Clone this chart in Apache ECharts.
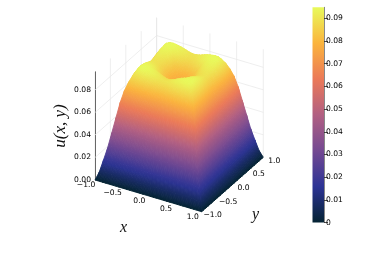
<!DOCTYPE html>
<html><head><meta charset="utf-8">
<style>html,body{margin:0;padding:0;background:#fff}#c{width:381px;height:254px;filter:blur(.3px)}</style>
<script src="https://cdn.jsdelivr.net/npm/echarts@6/dist/echarts.min.js"></script></head>
<body><div id="c"></div>
<script>
const xTicks=[-1,-0.5,0,0.5,1];
const yTicks=[-1,-0.5,0,0.5,1];
const zTicks=[0,0.02,0.04,0.06,0.08];
const colorTicks=[0,0.01,0.02,0.03,0.04,0.05,0.06,0.07,0.08,0.09];
const palette=['#042333','#2c3395','#744992','#b15f82','#eb7958','#fbb43d','#e8fa5b'];
const zMax=0.0948, zWall=0.096;
// surface heights; the surface is mirror symmetric, so
// heights[b][a] is the height where the larger of |x|,|y| is b*0.05 and the smaller is a*0.05
const heights=[
[.0755],
[.0757,.0761],
[.0765,.0768,.0775],
[.0780,.0784,.0792,.0803],
[.0802,.0806,.0815,.0826,.0838],
[.0830,.0834,.0844,.0855,.0868,.0880],
[.0858,.0862,.0871,.0882,.0895,.0908,.0918],
[.0878,.0882,.0890,.0900,.0912,.0923,.0932,.0938],
[.0889,.0892,.0899,.0909,.0919,.0929,.0937,.0943,.0947],
[.0895,.0899,.0906,.0915,.0925,.0933,.0940,.0944,.0946,.0945],
[.0895,.0898,.0903,.0911,.0919,.0926,.0931,.0935,.0938,.0936,.0925],
[.0868,.0871,.0876,.0882,.0889,.0894,.0898,.0900,.0901,.0899,.0895,.0885],
[.0822,.0824,.0828,.0833,.0838,.0843,.0847,.0849,.0850,.0849,.0845,.0838,.0830],
[.0750,.0751,.0754,.0757,.0761,.0765,.0768,.0770,.0771,.0770,.0768,.0765,.0762,.0760],
[.0660,.0661,.0663,.0665,.0667,.0670,.0672,.0674,.0675,.0675,.0675,.0674,.0672,.0668,.0660],
[.0550,.0551,.0552,.0554,.0556,.0558,.0560,.0562,.0563,.0564,.0564,.0564,.0563,.0560,.0552,.0530],
[.0420,.0421,.0422,.0424,.0426,.0428,.0430,.0432,.0433,.0434,.0435,.0435,.0435,.0434,.0430,.0420,.0400],
[.0290,.0290,.0291,.0292,.0294,.0295,.0297,.0298,.0300,.0301,.0302,.0303,.0304,.0304,.0303,.0300,.0292,.0270],
[.0175,.0175,.0176,.0177,.0178,.0179,.0180,.0181,.0182,.0183,.0184,.0184,.0185,.0185,.0185,.0184,.0181,.0176,.0165],
[.0075,.0075,.0076,.0076,.0077,.0077,.0078,.0078,.0079,.0079,.0080,.0080,.0080,.0080,.0080,.0079,.0078,.0075,.0070,.0065],
[0,0,0,0,0,0,0,0,0,0,0,0,0,0,0,0,0,0,0,0,0]];
const N=20;
const height=(i,j)=>{const p=Math.abs(i),q=Math.abs(j);return heights[Math.max(p,q)][Math.min(p,q)];};
const project=(x,y,z)=>[95+53.35*(x+1)+30.8*(y+1),180+15.85*(x+1)-27.2*(y+1)-1125*z];
const rgb=h=>[1,3,5].map(k=>parseInt(h.substr(k,2),16));
const pal=palette.map(rgb);
function colorOf(z){
  const t=Math.max(0,Math.min(1,z/zMax))*(pal.length-1),k=Math.min(pal.length-2,Math.floor(t)),f=t-k;
  const c=pal[k].map((v,m)=>Math.round(v+(pal[k+1][m]-v)*f));
  return 'rgb('+c.join(',')+')';
}
// triangles, back to front, keeping only those that face the viewer
const tris=[];
const facing=t=>{const [a,b,c]=t.map(q=>project(q[0],q[1],q[2]));return (b[0]-a[0])*(c[1]-a[1])-(b[1]-a[1])*(c[0]-a[0])>0;};
for(let i=-N;i<N;i++){for(let j=N;j>-N;j--){
  const pt=(a,b)=>[a/N,b/N,height(a,b)];
  const A=pt(i,j),B=pt(i+1,j),C=pt(i+1,j-1),D=pt(i,j-1);
  const sum=p=>Math.abs(p[0])+Math.abs(p[1]);
  let t1,t2;
  if(Math.abs(sum(A)-sum(C))>=Math.abs(sum(B)-sum(D))){t1=[A,B,C];t2=[A,C,D];}
  else{t1=[A,B,D];t2=[B,C,D];}
  const depth=t=>t.reduce((s,p)=>s+p[0]-p[1],0);
  (depth(t1)<=depth(t2)?[t1,t2]:[t2,t1]).forEach(t=>{if(facing(t))tris.push(t);});
}}
function fillFor(P,Z){
  const lo=Math.min(...Z),hi=Math.max(...Z);
  const ux=P[1][0]-P[0][0],uy=P[1][1]-P[0][1],vx=P[2][0]-P[0][0],vy=P[2][1]-P[0][1];
  const det=ux*vy-uy*vx;
  if(hi-lo<1e-6||Math.abs(det)<1e-3)return colorOf((lo+hi)/2);
  const dz1=Z[1]-Z[0],dz2=Z[2]-Z[0];
  const a=(dz1*vy-dz2*uy)/det,b=(ux*dz2-vx*dz1)/det,g2=a*a+b*b;
  const k=Z.indexOf(lo),s=(hi-lo)/g2;
  const stops=[];for(let m=0;m<=3;m++)stops.push({offset:m/3,color:colorOf(lo+(hi-lo)*m/3)});
  return {type:'linear',global:true,x:P[k][0],y:P[k][1],x2:P[k][0]+a*s,y2:P[k][1]+b*s,colorStops:stops};
}
const wallLines=[];
zTicks.slice(1).forEach(z=>{wallLines.push([[-1,-1,z],[-1,1,z]],[[-1,1,z],[1,1,z]]);});
yTicks.forEach(y=>wallLines.push([[-1,y,0],[-1,y,zWall]]));
xTicks.forEach(x=>wallLines.push([[x,1,0],[x,1,zWall]]));
const tickFont='7.6px "DejaVu Sans"';
const fmt=v=>v.toFixed(1).replace('-','\u2212');
const labels=[];
xTicks.forEach(v=>labels.push({p:[v,-1,0],dx:-9,dy:5,text:fmt(v)}));
yTicks.forEach(v=>labels.push({p:[1,v,0],dx:11,dy:3.5,text:fmt(v)}));
const chart=echarts.init(document.getElementById('c'),null,{renderer:'canvas',width:381,height:254});
chart.setOption({animation:false,backgroundColor:'#fff',
 grid:[{left:0,top:0,width:381,height:254},{left:312.5,top:7.3,width:11.5,height:215.3},{left:95,top:72,width:1,height:108}],
 xAxis:[{gridIndex:0,type:'value',min:0,max:381,show:false},{gridIndex:1,type:'category',data:['u'],show:false},{gridIndex:2,type:'value',min:0,max:1,show:false}],
 yAxis:[{gridIndex:0,type:'value',min:0,max:254,inverse:true,show:false},
  {gridIndex:1,type:'value',position:'right',min:0,max:zMax,splitLine:{show:false},
   axisLine:{show:true,lineStyle:{color:'#888',width:1}},axisTick:{show:true,length:4,customValues:colorTicks,lineStyle:{color:'#222',width:.8}},
   axisLabel:{show:true,margin:2,customValues:colorTicks,color:'#000',fontSize:7.6,fontFamily:'DejaVu Sans',formatter:v=>v===0?'0':v.toFixed(2)}},
  {gridIndex:2,type:'value',position:'left',min:0,max:zWall,splitLine:{show:false},
   axisLine:{show:true,lineStyle:{color:'#222',width:1}},axisTick:{show:false},
   axisLabel:{show:true,margin:4,customValues:zTicks,color:'#000',fontSize:7.6,fontFamily:'DejaVu Sans',formatter:v=>v.toFixed(2)},
   name:'u(x, y)',nameLocation:'middle',nameRotate:90,nameGap:26,nameTextStyle:{fontFamily:'Liberation Serif',fontStyle:'italic',fontSize:17,color:'#111'}}],
 series:[
 {type:'custom',xAxisIndex:0,yAxisIndex:0,silent:true,z:1,data:wallLines.map((_,i)=>[i,i]),
  renderItem:(p,api)=>{const l=wallLines[p.dataIndex];const a=api.coord(project(...l[0])),b=api.coord(project(...l[1]));
   return {type:'line',shape:{x1:a[0],y1:a[1],x2:b[0],y2:b[1]},style:{stroke:'#e6e6e6',lineWidth:.7}};}},
 {type:'custom',xAxisIndex:0,yAxisIndex:0,silent:true,z:2,progressive:0,progressiveThreshold:1000000,data:tris.map((_,i)=>[i,i]),
  renderItem:(p,api)=>{const t=tris[p.dataIndex];const P=t.map(q=>api.coord(project(q[0],q[1],q[2])));const Z=t.map(q=>q[2]);const f=fillFor(P,Z);
   return {type:'polygon',z2:p.dataIndex,shape:{points:P},style:{fill:f,stroke:f,lineWidth:.9,lineJoin:'round'}};}},
 {type:'custom',xAxisIndex:0,yAxisIndex:0,silent:true,z:3,data:labels.map((_,i)=>[i,i]),
  renderItem:(p,api)=>{const l=labels[p.dataIndex];const a=api.coord(project(...l.p));
   return {type:'text',style:{x:a[0]+l.dx,y:a[1]+l.dy,text:l.text,fill:'#000',font:tickFont,align:'center',verticalAlign:'middle'}};}},
 {type:'bar',xAxisIndex:1,yAxisIndex:1,silent:true,barWidth:'100%',data:[zMax],
  itemStyle:{color:{type:'linear',x:0,y:1,x2:0,y2:0,colorStops:palette.map((c,i)=>({offset:i/(palette.length-1),color:c}))}}}
 ],
 graphic:[
  {type:'text',left:120,top:220,style:{text:'x',font:'italic 16px "Liberation Serif"',fill:'#111'}},
  {type:'text',left:252,top:207,style:{text:'y',font:'italic 16px "Liberation Serif"',fill:'#111'}}
 ]
});
</script></body></html>
